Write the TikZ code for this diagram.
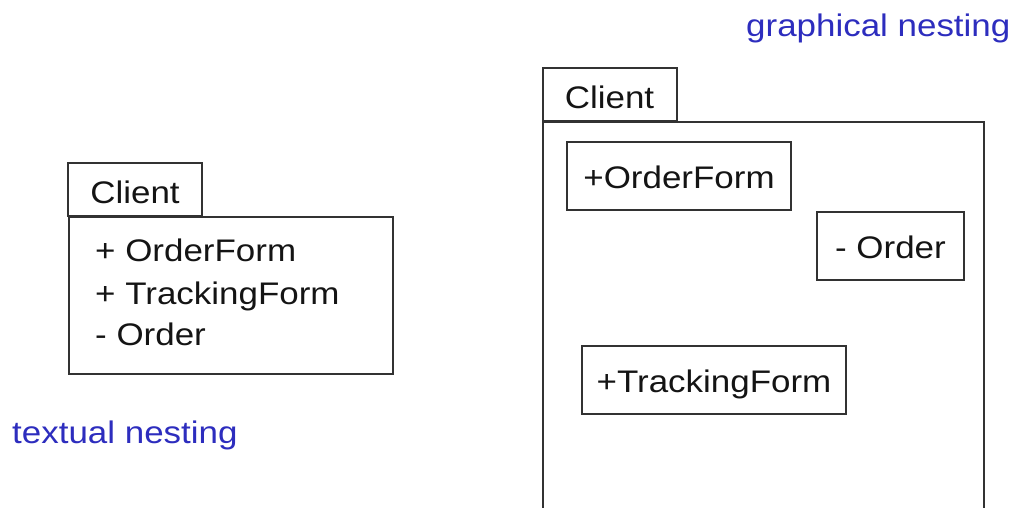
\documentclass[tikz,border=0pt]{standalone}
\usepackage{fontspec}
\setmainfont{Liberation Sans}[FakeStretch=1.12]
\definecolor{linie}{RGB}{50,50,50}
\definecolor{schrift}{RGB}{20,20,20}
\definecolor{blauton}{RGB}{45,45,190}

\begin{document}
\begin{tikzpicture}[
    x=1pt, y=-1pt,
    every node/.style={font=\fontsize{31.2}{36}\selectfont, text=schrift},
    reiter/.style={
        draw=linie, line width=2pt, inner sep=0pt,
        minimum width=134pt, minimum height=53pt,
        text height=28.5pt, text depth=0pt
    },
    paket/.style={
        draw=linie, line width=2pt, inner sep=0pt,
        anchor=north west
    },
    element/.style={
        draw=linie, line width=2pt, inner sep=0pt,
        minimum height=68pt, text height=25pt, text depth=0pt
    },
    eintrag/.style={anchor=base west, inner sep=0pt},
    vermerk/.style={anchor=base west, inner sep=0pt, text=blauton}
]

% Rahmen des Bildes
\path[use as bounding box] (0,0) rectangle (1011,508);
\clip (0,0) rectangle (1011,508);

% Textuelle Schachtelung (links)
\node[paket, minimum width=324pt, minimum height=157pt] (rumpfL) at (68,216) {};
\node[reiter] (reiterL) at (135,189.5) {Client};
\node[eintrag] (lOF) at (95,261) {+ OrderForm};
\node[eintrag] (lTF) at (95,304) {+ TrackingForm};
\node[eintrag] (lO)  at (95,345) {- Order};
\node[vermerk] (txtL) at (12,443) {textual nesting};

% Grafische Schachtelung (rechts)
\node[paket, minimum width=441pt, minimum height=420pt] (rumpfR) at (542,121) {};
\node[reiter] (reiterR) at (609.5,94.5) {Client};
\node[element, minimum width=224pt] (eOF) at (679,175.5) {+OrderForm};
\node[element, minimum width=147pt] (eO)  at (890.5,246) {- Order};
\node[element, minimum width=264pt] (eTF) at (714,380) {+TrackingForm};
\node[vermerk] (txtR) at (746,37) {graphical nesting};

\end{tikzpicture}
\end{document}
